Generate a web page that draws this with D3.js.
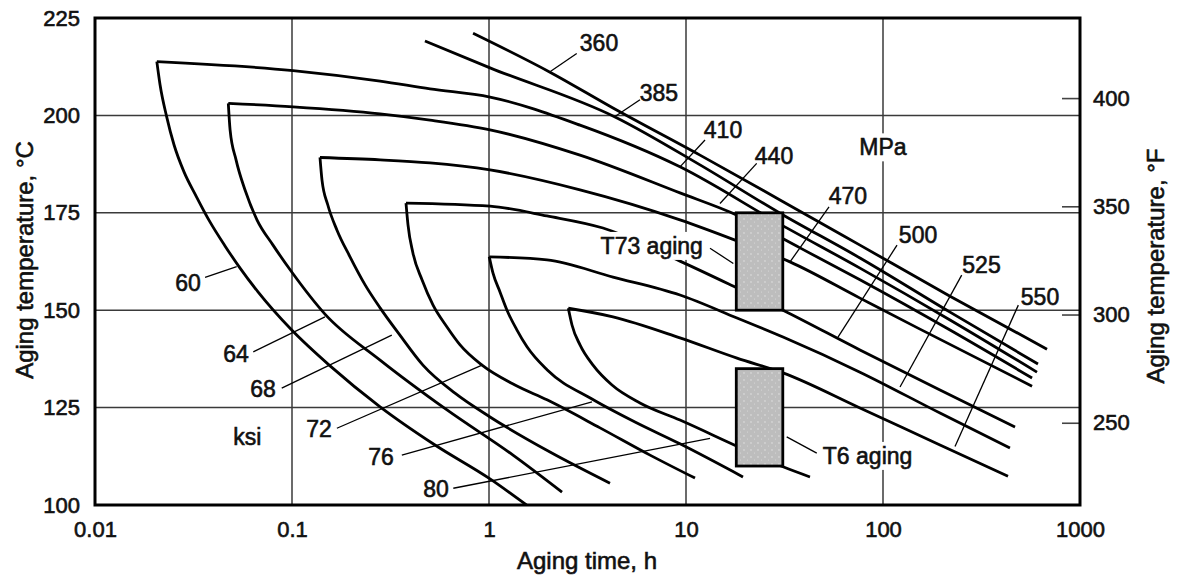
<!DOCTYPE html>
<html><head><meta charset="utf-8">
<script src="https://cdn.jsdelivr.net/npm/d3@7"></script>
<style>
html,body{margin:0;padding:0;background:#fff;}
svg text{font-family:"Liberation Sans",Arial,Helvetica,sans-serif;font-size:23px;fill:#111;stroke:#111;stroke-width:0.6px;}
svg .tick text{font-size:22px;}
svg text.title{font-size:24px;}
</style></head><body>
<svg id="chart" width="1177" height="579"></svg>
<script>
// ---- axis / tick data ----
const xTicks = [0.01, 0.1, 1, 10, 100, 1000];
const xTickLabels = ["0.01", "0.1", "1", "10", "100", "1000"];
const yTicksC = [100, 125, 150, 175, 200, 225];
const yTicksF = [250, 300, 350, 400];
const xGrid = [0.1, 1, 10, 100];
const yGrid = [125, 150, 175, 200];

// ---- iso-strength curves: [aging time h, temperature °C] ----
// upper branches (MPa labels) and lower branches (ksi labels), each starts at the nose
const c60Upper = [[0.0206,213.8],[0.1012,211.5],[0.280,208.8],[0.502,206.8],[1.012,204.7],[2.897,197.5],[9.32,186.8],[30.0,172.1],[76.4,160.8],[218.9,147.5],[605,134.1]];
const c60Lower = [[0.0206,213.8],[0.0214,207.8],[0.0231,199.7],[0.0252,192.4],[0.0283,185.5],[0.0326,179.3],[0.0384,172.6],[0.0457,166.5],[0.0545,160.8],[0.0672,154.7],[0.0997,144.9],[0.156,135.7],[0.280,125.2],[0.532,115.4],[1.012,106.7],[1.55,100]];
const c64Upper = [[0.0475,203.1],[0.1012,202.2],[0.280,200.4],[0.502,198.8],[1.012,196.3],[2.897,189.8],[9.32,180.1],[18.15,174.4],[37.9,166.0],[76.4,157.8],[218.9,144.9],[571,132.6]];
const c64Lower = [[0.0475,203.1],[0.0485,196.3],[0.0520,188.6],[0.0577,180.9],[0.0664,173.2],[0.0801,166.7],[0.0997,159.8],[0.147,149.0],[0.280,137.2],[0.612,124.4],[1.324,112.8],[2.348,103.3]];
const c68Upper = [[0.1387,189.2],[0.280,188.6],[0.502,187.8],[1.012,186.0],[2.897,180.9],[9.32,173.2],[17.74,168.0],[33.73,162.4],[76.4,153.1],[150.6,145.4],[571,130.5]];
const c68Lower = [[0.1387,189.2],[0.142,183.4],[0.152,177.0],[0.169,170.6],[0.197,163.7],[0.235,156.5],[0.280,150.6],[0.353,143.6],[0.462,135.9],[0.672,128.7],[1.012,122.6],[2.04,113.6],[4.113,105.6]];
const c72Upper = [[0.379,177.5],[1.012,176.7],[1.970,174.2],[3.790,171.1],[9.32,162.6],[17.33,156.2],[31.08,150.0],[76.4,139.8],[194.7,129.5],[468,120.0]];
const c72Lower = [[0.379,177.5],[0.388,171.9],[0.411,164.7],[0.457,157.8],[0.520,151.3],[0.612,145.7],[0.713,141.1],[0.922,135.9],[1.355,130.8],[1.970,127.0],[3.661,119.8],[6.57,112.8],[11.11,106.9]];
const c76Upper = [[1.003,163.7],[1.970,162.9],[4.260,158.5],[9.32,153.9],[18.15,148.0],[31.08,143.1],[76.4,134.1],[194.7,123.6],[441,114.6]];
const c76Lower = [[1.003,163.7],[1.048,159.5],[1.137,154.7],[1.234,150.0],[1.387,144.9],[1.559,140.6],[1.970,134.7],[3.333,127.2],[5.509,121.3],[9.32,115.7],[19.47,107.2]];
const c80Upper = [[2.527,150.5],[4.260,148.3],[9.32,142.9],[18.15,137.7],[31.08,133.9],[76.4,124.9],[194.7,115.4],[431,107.4]];
const c80Lower = [[2.527,150.5],[2.638,146.2],[2.897,141.1],[3.373,135.9],[4.211,130.8],[5.84,126.2],[9.32,121.8],[18.15,115.1],[31.08,109.8],[42.6,107.2]];
const mpa360 = [[0.830,221.1],[2.040,211.1],[4.260,201.9],[11.78,189.8],[30.0,178.3],[76.4,166.7],[218.9,153.6],[680,140.0]];
const mpa385 = [[0.473,219.1],[1.012,212.2],[4.361,199.6],[11.78,187.3],[30.0,174.9],[76.4,163.4],[218.9,149.5],[612,136.2]];

// ---- aging practice boxes ----
const boxNames = ["T73 aging", "T6 aging"];
const boxTimes = [[18, 31], [18, 31]];
const boxTemps = [[150, 175], [110, 135]];

// ---- labels: text, anchor (t, T), leader from/to (t, T) ----
const ksiLabels = ["60", "64", "68", "72", "76", "80"];
const ksiPos = [[0.0297,157.0],[0.0520,138.8],[0.0713,129.8],[0.137,119.5],[0.283,112.3],[0.538,104.1]];
const ksiLeaders = [[[0.0362,158.4],[0.0524,161.2]],[[0.0636,139.3],[0.147,148.3]],[[0.0887,130.0],[0.321,143.6]],[[0.169,119.7],[0.922,135.9]],[[0.361,112.8],[3.333,126.5]],[[0.659,104.3],[13.24,117.1]]];
const mpaLabels = ["360", "385", "410", "440", "470", "500", "525", "550"];
const mpaPos = [[3.617,218.6],[7.29,205.7],[15.41,196.3],[27.97,189.7],[66.4,179.4],[150.6,169.4],[316.2,161.7],[626.6,153.5]];
const mpaLeaders = [[[2.788,215.9],[2.040,211.2]],[[5.84,204.0],[4.361,199.7]],[[12.49,193.7],[9.32,186.8]],[[22.85,187.7],[14.88,177.4]],[[53.2,176.5],[33.73,162.4]],[[117.8,166.7],[59.1,143.1]],[[250.9,159.0],[122.0,130.3]],[[486.3,151.3],[232.0,115.0]]];
const unitLabels = ["ksi", "MPa"];
const unitPos = [[0.0594,117.5],[100,191.8]];
const boxLabelPos = [[6.70,166.5],[83.5,112.6]];
const boxLeaders = [[[13.24,165.9],[17.39,162.0]],[[46.1,113.3],[32.45,117.5]]];

// ---- drawing ----
const L = 95, R = 1080, T = 18, B = 505;
const svg = d3.select("#chart");
const x = d3.scaleLog().domain([0.01, 1000]).range([L, R]);
const y = d3.scaleLinear().domain([100, 225]).range([B, T]);
const yF = d3.scaleLinear().domain([212, 437]).range([B, T]);

const defs = svg.append("defs");
const pat = defs.append("pattern").attr("id", "speck").attr("width", 7).attr("height", 7).attr("patternUnits", "userSpaceOnUse");
pat.append("rect").attr("width", 7).attr("height", 7).attr("fill", "#bdbdbd");
pat.append("circle").attr("cx", 2).attr("cy", 2).attr("r", 0.7).attr("fill", "#e8e8e8");
pat.append("circle").attr("cx", 5.5).attr("cy", 5).attr("r", 0.5).attr("fill", "#dddddd");

const grid = svg.append("g").attr("stroke", "#3a3a3a").attr("stroke-width", 1.5);
grid.selectAll("line.v").data(xGrid).join("line")
  .attr("x1", d => x(d)).attr("x2", d => x(d)).attr("y1", T).attr("y2", B);
grid.selectAll("line.h").data(yGrid).join("line")
  .attr("x1", L).attr("x2", R).attr("y1", d => y(d)).attr("y2", d => y(d));

const line = d3.line().x(d => x(d[0])).y(d => y(d[1])).curve(d3.curveMonotoneX);
const allCurves = [c60Upper, c60Lower, c64Upper, c64Lower, c68Upper, c68Lower, c72Upper, c72Lower,
  c76Upper, c76Lower, c80Upper, c80Lower, mpa360, mpa385];
svg.append("g").selectAll("path").data(allCurves).join("path")
  .attr("d", line).attr("fill", "none").attr("stroke", "#000").attr("stroke-width", 2.8);

svg.append("g").selectAll("rect").data(boxNames).join("rect")
  .attr("x", (d, i) => x(boxTimes[i][0])).attr("width", (d, i) => x(boxTimes[i][1]) - x(boxTimes[i][0]))
  .attr("y", (d, i) => y(boxTemps[i][1])).attr("height", (d, i) => y(boxTemps[i][0]) - y(boxTemps[i][1]))
  .attr("fill", "url(#speck)").attr("stroke", "#000").attr("stroke-width", 2.8);

function addLabel(g, text, pos, bg) {
  const t = g.append("text").attr("x", x(pos[0])).attr("y", y(pos[1]))
    .attr("text-anchor", "middle").attr("dominant-baseline", "central").text(text);
  if (bg) {
    const bb = t.node().getBBox();
    g.insert("rect", "text").attr("x", bb.x - 2).attr("y", bb.y - 1).attr("width", bb.width + 4).attr("height", bb.height + 2)
      .attr("fill", "#fff").attr("stroke", "none");
  }
  return t;
}
const lab = svg.append("g");
ksiLabels.forEach((s, i) => addLabel(lab.append("g"), s, ksiPos[i], false));
mpaLabels.forEach((s, i) => addLabel(lab.append("g"), s, mpaPos[i], false));
unitLabels.forEach((s, i) => addLabel(lab.append("g"), s, unitPos[i], i === 1));
boxNames.forEach((s, i) => addLabel(lab.append("g"), s, boxLabelPos[i], true));

const leaders = ksiLeaders.concat(mpaLeaders, boxLeaders);
svg.append("g").selectAll("line").data(leaders).join("line")
  .attr("x1", d => x(d[0][0])).attr("y1", d => y(d[0][1]))
  .attr("x2", d => x(d[1][0])).attr("y2", d => y(d[1][1]))
  .attr("stroke", "#000").attr("stroke-width", 1.3);

const ax = d3.axisBottom(x).tickValues(xTicks).tickFormat((d, i) => xTickLabels[i]).tickSize(0).tickPadding(16);
svg.append("g").attr("transform", `translate(0,${B})`).call(ax).call(g => g.select(".domain").remove());
const ayl = d3.axisLeft(y).tickValues(yTicksC).tickFormat(d3.format("d")).tickSize(0).tickPadding(15);
svg.append("g").attr("transform", `translate(${L},0)`).call(ayl).call(g => g.select(".domain").remove());
const ayr = d3.axisRight(yF).tickValues(yTicksF).tickFormat(d3.format("d")).tickSizeInner(-18).tickSizeOuter(0).tickPadding(13);
svg.append("g").attr("transform", `translate(${R},0)`).call(ayr).call(g => g.select(".domain").remove())
  .call(g => g.selectAll(".tick line").attr("stroke", "#444").attr("stroke-width", 1.6));
svg.selectAll(".tick text").attr("font-family", null).attr("font-size", null).attr("fill", "#111");
svg.selectAll(".tick").attr("font-family", null).attr("font-size", null);

svg.append("rect").attr("x", L).attr("y", T).attr("width", R - L).attr("height", B - T)
  .attr("fill", "none").attr("stroke", "#000").attr("stroke-width", 3);

svg.append("text").attr("class", "title").attr("transform", "translate(24,260) rotate(-90)").attr("text-anchor", "middle")
  .attr("dominant-baseline", "central").text("Aging temperature, °C");
svg.append("text").attr("class", "title").attr("transform", "translate(1155,266) rotate(-90)").attr("text-anchor", "middle")
  .attr("dominant-baseline", "central").text("Aging temperature, °F");
svg.append("text").attr("class", "title").attr("x", 587).attr("y", 560).attr("text-anchor", "middle")
  .attr("dominant-baseline", "central").text("Aging time, h");
</script>
</body></html>
